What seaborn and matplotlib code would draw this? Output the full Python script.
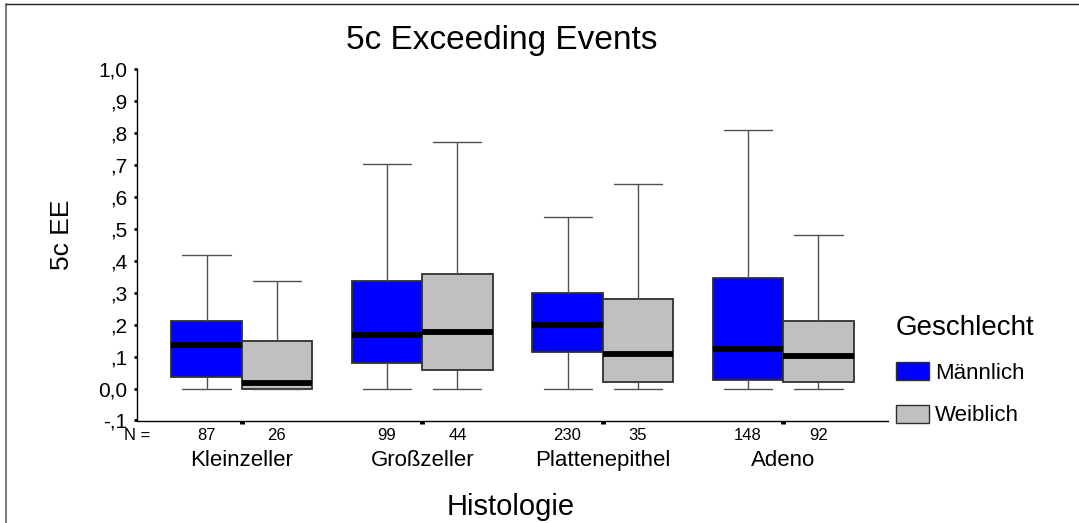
import numpy as np
import pandas as pd
import matplotlib
matplotlib.use("Agg")
import matplotlib.pyplot as plt
import matplotlib.transforms as mtransforms
from matplotlib.lines import Line2D
from matplotlib.patches import Patch
import seaborn as sns

# Histology groups and sex
histologie = ["Kleinzeller", "Großzeller", "Plattenepithel", "Adeno"]
geschlecht = ["Männlich", "Weiblich"]

# Five-number summaries per group: lower whisker, Q1, median, Q3, upper whisker
maennlich_min = [0.0, 0.0, 0.0, 0.0]
maennlich_q1 = [0.036, 0.080, 0.115, 0.027]
maennlich_median = [0.137, 0.168, 0.198, 0.123]
maennlich_q3 = [0.210, 0.335, 0.299, 0.347]
maennlich_max = [0.418, 0.703, 0.538, 0.810]

weiblich_min = [0.0, 0.0, 0.0, 0.0]
weiblich_q1 = [0.0, 0.059, 0.019, 0.019]
weiblich_median = [0.017, 0.177, 0.108, 0.102]
weiblich_q3 = [0.148, 0.357, 0.280, 0.210]
weiblich_max = [0.338, 0.770, 0.641, 0.480]

# Case counts
n_maennlich = [87, 99, 230, 148]
n_weiblich = [26, 44, 35, 92]

y_ticks = [-0.1, 0.0, 0.1, 0.2, 0.3, 0.4, 0.5, 0.6, 0.7, 0.8, 0.9, 1.0]
y_tick_labels = ["-,1", "0,0", ",1", ",2", ",3", ",4", ",5", ",6", ",7", ",8", ",9", "1,0"]

summaries = {
    "Männlich": (maennlich_min, maennlich_q1, maennlich_median, maennlich_q3, maennlich_max),
    "Weiblich": (weiblich_min, weiblich_q1, weiblich_median, weiblich_q3, weiblich_max),
}

rows = []
for sex, parts in summaries.items():
    for i, cat in enumerate(histologie):
        for part in parts:
            rows.append({"Histologie": cat, "Geschlecht": sex, "5c EE": part[i]})
df = pd.DataFrame(rows)

sns.set_theme(style="white")
plt.rcParams["font.family"] = ["Liberation Sans", "DejaVu Sans"]
plt.rcParams["text.color"] = "black"
plt.rcParams["axes.labelcolor"] = "black"
plt.rcParams["xtick.color"] = "black"
plt.rcParams["ytick.color"] = "black"

BLUE = "#0000FF"
GREY = "#C0C0C0"
EDGE = "#303030"

fig = plt.figure(figsize=(10.79, 5.23), dpi=100)
ax = fig.add_axes([137 / 1079, 1 - 420.5 / 523, (888 - 137) / 1079, (420.5 - 69) / 523])

sns.boxplot(
    data=df, x="Histologie", y="5c EE", hue="Geschlecht",
    order=histologie, hue_order=geschlecht,
    palette={"Männlich": BLUE, "Weiblich": GREY},
    saturation=1, whis=np.inf, width=0.78, gap=0, dodge=True,
    showfliers=False, linewidth=1.3, linecolor=EDGE,
    medianprops=dict(color="black", linewidth=4.2),
    whiskerprops=dict(color="#505050", linewidth=1.0),
    capprops=dict(color="#505050", linewidth=1.0),
    capwidths=0.266,
    legend=False, ax=ax,
)

ax.set_xlim(-0.58, 3.58)
ax.set_ylim(-0.1, 1.0)
ax.set_yticks(y_ticks)
ax.set_yticklabels(y_tick_labels, fontsize=15)
ax.set_xticks(range(len(histologie)))
ax.set_xticklabels(histologie, fontsize=16)
ax.set_xlabel("")
ax.set_ylabel("")

for side in ("top", "right"):
    ax.spines[side].set_visible(False)
for side in ("left", "bottom"):
    ax.spines[side].set_color("black")
    ax.spines[side].set_linewidth(1.0)

ax.tick_params(axis="y", direction="out", length=2.2, width=2.0, color="black",
               labelcolor="black", pad=4.5, left=True)
ax.tick_params(axis="x", direction="out", length=2.2, width=3.6, color="black",
               labelcolor="black", pad=19, bottom=True)

# Case counts under each box
count_tf = mtransforms.blended_transform_factory(ax.transData, fig.transFigure)
offset = 0.78 / 4
for i in range(len(histologie)):
    ax.text(i - offset, 1 - 435 / 523, str(n_maennlich[i]), transform=count_tf,
            ha="center", va="center", fontsize=12, clip_on=False)
    ax.text(i + offset, 1 - 435 / 523, str(n_weiblich[i]), transform=count_tf,
            ha="center", va="center", fontsize=12, clip_on=False)
fig.text(137 / 1079, 1 - 436 / 523, "N =", ha="center", va="center", fontsize=12)

# Titles
fig.text(502 / 1079, 1 - 41 / 523, "5c Exceeding Events", ha="center", va="center", fontsize=24)
fig.text(62 / 1079, 1 - 235 / 523, "5c EE", rotation=90, ha="center", va="center", fontsize=19)
fig.text(511 / 1079, 1 - 507 / 523, "Histologie", ha="center", va="center", fontsize=21)

# Legend
handles = [Patch(facecolor=BLUE, edgecolor=EDGE, linewidth=1.0),
           Patch(facecolor=GREY, edgecolor=EDGE, linewidth=1.0)]
fig.legend(handles, geschlecht, title="Geschlecht", loc="upper left",
           bbox_to_anchor=(896 / 1079, 1 - 315 / 523), frameon=False,
           fontsize=16, title_fontsize=20, handlelength=1.5, handleheight=0.86,
           handletextpad=0.25, labelspacing=0.95, alignment="left",
           borderpad=0, borderaxespad=0)

# Chart frame (left and top edges)
fig.add_artist(Line2D([6 / 1079, 6 / 1079], [0, 1 - 4 / 523], transform=fig.transFigure,
                      color="#808080", linewidth=1.5))
fig.add_artist(Line2D([6 / 1079, 1], [1 - 4 / 523, 1 - 4 / 523], transform=fig.transFigure,
                      color="#202020", linewidth=1.0))

fig.savefig("out.png", dpi=100)
